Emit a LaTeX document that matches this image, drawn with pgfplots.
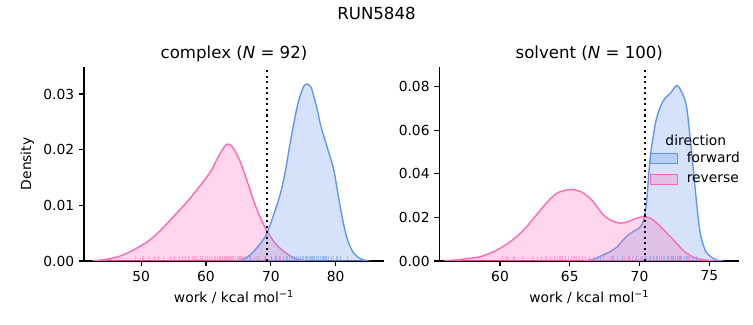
\documentclass[border=0pt]{standalone}
\usepackage{fontspec}
\setmainfont{DejaVu Sans}
\usepackage{pgfplots}
\pgfplotsset{compat=1.18}
\definecolor{fwd}{HTML}{6495ED}
\definecolor{rev}{HTML}{FF69B4}
\pgfplotsset{
 common/.style={
  scale only axis, width=216bp, height=139.9bp,
  anchor=south west,
  axis x line*=bottom, axis y line*=left,
  axis line style={line width=0.8bp, -},
  tick align=outside,
  major tick length=3.5bp,
  every tick/.style={black, line width=0.8bp},
  tick label style={font=\fontsize{10}{12}\selectfont},
  label style={font=\fontsize{10}{12}\selectfont},
  title style={font=\fontsize{12}{14}\selectfont, at={(0.5,1)}, anchor=base, yshift=0bp},
  /pgf/number format/assume math mode=true,
  scaled y ticks=false,
  yticklabel style={/pgf/number format/.cd, fixed, fixed zerofill, precision=2},
  xlabel={work / kcal mol\textsuperscript{−1}},
  ymin=0,
 },
 fwdkde/.style={draw=fwd, line width=1bp, fill=fwd, fill opacity=0.27, smooth, tension=0.5},
 revkde/.style={draw=rev, line width=1bp, fill=rev, fill opacity=0.27, smooth, tension=0.5},
 fwdrug/.style={ycomb, draw=fwd, line width=0.8bp, draw opacity=0.5, forget plot, mark=none},
 revrug/.style={ycomb, draw=rev, line width=0.8bp, draw opacity=0.45, forget plot, mark=none},
 vline/.style={black, line width=1.5bp, dash pattern=on 1.5bp off 2.5bp, forget plot},
}
\begin{document}
\begin{tikzpicture}
\path[use as bounding box] (0,0) rectangle (542.16bp,234bp);
\node[font=\fontsize{12}{14}\selectfont, anchor=base] at (271.08bp,220.3bp) {RUN5848};
% complex
\begin{axis}[common, at={(60.48bp,46.08bp)},
  xmin=41.2, xmax=87.45, ymax=0.0349,
  xtick={50,60,70,80}, ytick={0,0.01,0.02,0.03},
  ylabel={Density},
  title={complex (\textit{N} = 92)}]
\addplot[revkde] coordinates {(42.5,0) (44,0.0002) (45.5,0.0005) (46.8,0.0009) (48.5,0.0018) (50.9,0.0034) (53,0.0055) (55.0,0.008) (57,0.0105) (58.6,0.0128) (60.2,0.0152) (61.0,0.0166) (61.7,0.0183) (62.5,0.0199) (63.1,0.0209) (63.5,0.021) (64.0,0.0206) (64.6,0.0195) (65.3,0.0178) (66.0,0.0155) (66.8,0.0128) (67.5,0.0103) (68.3,0.008) (69.3,0.0056) (70.4,0.0036) (71.5,0.0022) (72.5,0.0013) (73.5,0.0006) (74.6,0.0002) (75.5,0)} \closedcycle;
\addplot[fwdkde] coordinates {(64.5,0) (65.5,0.0002) (66.5,0.0008) (67.5,0.0019) (68.5,0.0033) (69.4,0.005) (70.5,0.0085) (71.5,0.0122) (72.3,0.0165) (73.0,0.0213) (74.1,0.0279) (75.0,0.0312) (75.6,0.0318) (76.2,0.0312) (76.6,0.0297) (77.2,0.027) (77.7,0.0243) (78.7,0.0204) (79.7,0.0164) (80.5,0.011) (81.3,0.0062) (82.0,0.0032) (82.8,0.0014) (83.8,0.0004) (85.0,0)} \closedcycle;
\addplot[revrug] coordinates {(49.2,0.00087) (50.3,0.00087) (51.1,0.00087) (52.0,0.00087) (52.7,0.00087) (53.5,0.00087) (54.6,0.00087) (55.2,0.00087) (55.9,0.00087) (56.4,0.00087) (56.8,0.00087) (57.3,0.00087) (57.9,0.00087) (58.2,0.00087) (58.6,0.00087) (59.1,0.00087) (59.4,0.00087) (59.9,0.00087) (60.3,0.00087) (60.6,0.00087) (60.9,0.00087) (61.3,0.00087) (61.5,0.00087) (61.8,0.00087) (62.1,0.00087) (62.3,0.00087) (62.6,0.00087) (62.8,0.00087) (63.0,0.00087) (63.2,0.00087) (63.4,0.00087) (63.5,0.00087) (63.7,0.00087) (63.9,0.00087) (64.1,0.00087) (64.3,0.00087) (64.6,0.00087) (64.8,0.00087) (65.1,0.00087) (65.4,0.00087) (65.7,0.00087) (66.0,0.00087) (66.4,0.00087) (66.9,0.00087) (67.5,0.00087) (68.2,0.00087) (69.0,0.00087) (70.1,0.00087) (71.5,0.00087)};
\addplot[fwdrug] coordinates {(66.9,0.00087) (68.0,0.00087) (69.2,0.00087) (70.1,0.00087) (70.8,0.00087) (71.4,0.00087) (72.0,0.00087) (72.5,0.00087) (72.9,0.00087) (73.3,0.00087) (73.7,0.00087) (74.0,0.00087) (74.3,0.00087) (74.6,0.00087) (74.9,0.00087) (75.1,0.00087) (75.3,0.00087) (75.5,0.00087) (75.7,0.00087) (75.9,0.00087) (76.1,0.00087) (76.3,0.00087) (76.5,0.00087) (76.8,0.00087) (77.0,0.00087) (77.3,0.00087) (77.6,0.00087) (77.9,0.00087) (78.2,0.00087) (78.5,0.00087) (78.9,0.00087) (79.3,0.00087) (79.7,0.00087) (80.2,0.00087) (80.8,0.00087) (81.8,0.00087)};
\addplot[vline] coordinates {(69.45,0) (69.45,0.0349)};
\end{axis}
% solvent
\begin{axis}[common, at={(316.3bp,46.08bp)},
  xmin=55.65, xmax=77.15, ymax=0.0892,
  xtick={60,65,70,75}, ytick={0,0.02,0.04,0.06,0.08},
  title={solvent (\textit{N} = 100)},
  legend style={draw=none, fill=none, at={(rel axis cs:0.70,0.575)}, anchor=north west,
    font=\fontsize{10}{12}\selectfont, row sep=3bp, column sep=4.4bp, inner sep=0pt},
  legend cell align=left,
  legend image code/.code={\draw[#1] (0bp,-3.6bp) rectangle (19.4bp,3.6bp);}]
\addplot[fwdkde] coordinates {(66.0,0) (66.7,0.0008) (67.3,0.0025) (67.9,0.0043) (68.4,0.0065) (68.8,0.0095) (69.3,0.0125) (69.8,0.0145) (70.1,0.016) (70.3,0.019) (70.5,0.027) (70.75,0.0465) (71.0,0.058) (71.2,0.065) (71.5,0.071) (71.8,0.0745) (72.2,0.077) (72.65,0.0805) (72.9,0.079) (73.2,0.075) (73.4,0.0696) (73.65,0.055) (73.9,0.039) (74.1,0.026) (74.35,0.0128) (74.7,0.005) (75.1,0.002) (75.5,0.0005) (76.0,0)} \closedcycle;
\addlegendentry{forward}
\addplot[revkde] coordinates {(56.0,0) (57.0,0.0006) (58.0,0.0014) (58.6,0.002) (59.5,0.0042) (60.2,0.0066) (61.0,0.0102) (61.7,0.0143) (62.4,0.0195) (63.1,0.025) (63.6,0.0285) (64.1,0.0312) (64.7,0.0325) (65.2,0.0327) (65.8,0.0318) (66.5,0.0285) (67.0,0.0245) (67.4,0.0212) (68.0,0.0185) (68.6,0.0174) (69.1,0.0178) (69.6,0.0192) (70.3,0.0204) (70.8,0.0195) (71.2,0.0176) (71.7,0.0145) (72.2,0.0112) (72.7,0.0078) (73.1,0.005) (73.6,0.0027) (74.1,0.0012) (74.8,0.0004) (75.5,0)} \closedcycle;
\addlegendentry{reverse}
\addplot[revrug] coordinates {(60.2,0.0022) (60.5,0.0022) (61.0,0.0022) (61.6,0.0022) (62.3,0.0022) (62.7,0.0022) (63.0,0.0022) (63.3,0.0022) (63.6,0.0022) (63.9,0.0022) (64.1,0.0022) (64.3,0.0022) (64.5,0.0022) (64.7,0.0022) (64.9,0.0022) (65.1,0.0022) (65.3,0.0022) (65.5,0.0022) (65.7,0.0022) (65.9,0.0022) (66.1,0.0022) (66.4,0.0022) (66.7,0.0022) (67.0,0.0022) (67.4,0.0022) (67.9,0.0022) (68.4,0.0022) (68.9,0.0022) (69.2,0.0022) (69.5,0.0022) (69.8,0.0022) (70.1,0.0022) (70.4,0.0022) (70.7,0.0022) (71.0,0.0022) (71.3,0.0022) (71.7,0.0022) (72.2,0.0022) (72.8,0.0022) (73.5,0.0022)};
\addplot[fwdrug] coordinates {(67.2,0.0022) (68.1,0.0022) (68.8,0.0022) (69.3,0.0022) (69.8,0.0022) (70.2,0.0022) (70.5,0.0022) (70.8,0.0022) (71.0,0.0022) (71.2,0.0022) (71.4,0.0022) (71.6,0.0022) (71.8,0.0022) (72.0,0.0022) (72.1,0.0022) (72.3,0.0022) (72.4,0.0022) (72.6,0.0022) (72.7,0.0022) (72.9,0.0022) (73.0,0.0022) (73.2,0.0022) (73.4,0.0022) (73.6,0.0022) (73.8,0.0022) (74.1,0.0022)};
\addplot[vline] coordinates {(70.39,0) (70.39,0.0892)};
\node[font=\fontsize{10}{12}\selectfont] at (rel axis cs:0.855,0.62) {direction};
\end{axis}
\end{tikzpicture}
\end{document}
